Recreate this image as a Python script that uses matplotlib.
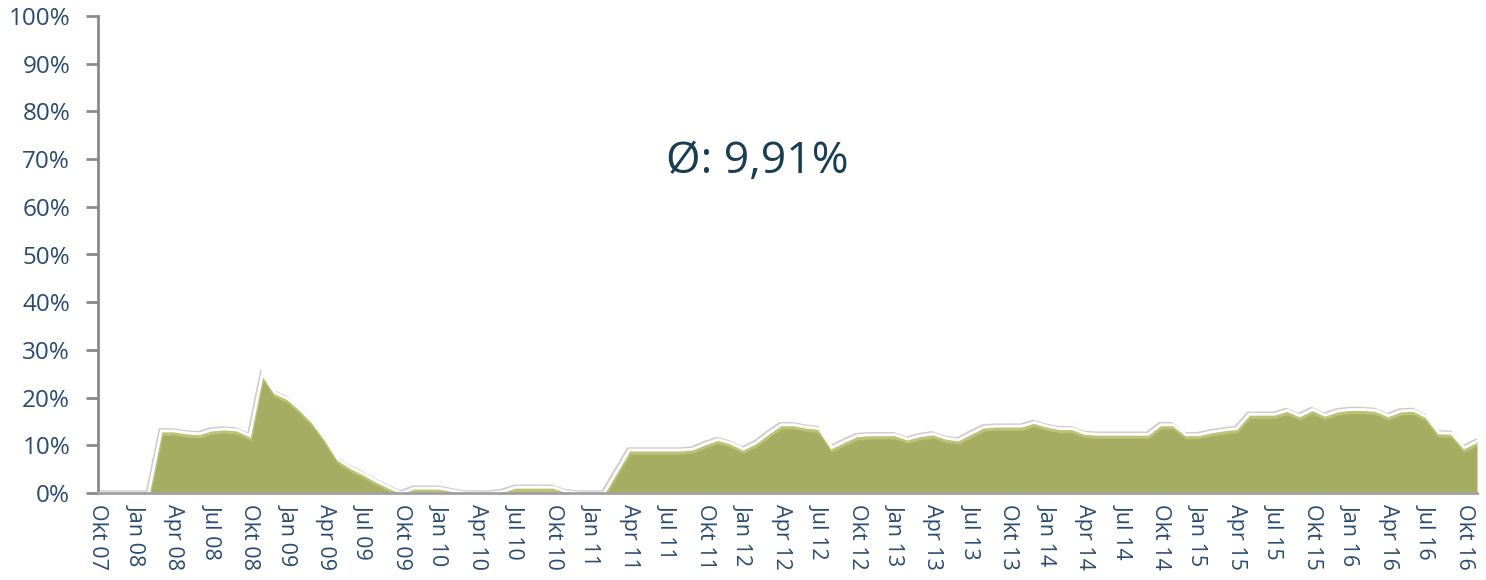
import numpy as np
import matplotlib
matplotlib.use('Agg')
import matplotlib.pyplot as plt
import matplotlib.patheffects as pe
from matplotlib.ticker import FuncFormatter

""" DATOS """
# valores mensuales en %, Okt 07 .. Nov 16
werte = [
    0, 0, 0, 0, 0, 13, 13, 12.6, 12.4, 13.2, 13.4, 13.2,          # Okt07 - Sep08
    12, 25, 21, 19.8, 17.5, 14.8, 11.2, 7, 5.3, 4, 2.5, 1.2,        # Okt08 - Sep09
    0, 1, 1, 1, 0.5, 0, 0, 0, 0.3, 1.2, 1.2, 1.2,                   # Okt09 - Sep10
    1.2, 0.3, 0, 0, 0, 4.5, 9, 9, 9, 9, 9, 9.2,                     # Okt10 - Sep11
    10.3, 11.2, 10.5, 9.2, 10.5, 12.5, 14.3, 14.3, 13.8, 13.5, 9.5, 10.8,  # Okt11 - Sep12
    12, 12.2, 12.2, 12.2, 11.3, 12, 12.4, 11.5, 11.1, 12.5, 13.8, 14,      # Okt12 - Sep13
    14, 14, 14.8, 14, 13.5, 13.5, 12.5, 12.3, 12.3, 12.3, 12.3, 12.3,      # Okt13 - Sep14
    14.3, 14.3, 12.2, 12.2, 12.8, 13.2, 13.5, 16.5, 16.5, 16.5, 17.3, 16.2,  # Okt14 - Sep15
    17.5, 16.3, 17.2, 17.5, 17.5, 17.3, 16.2, 17.2, 17.3, 16, 12.6, 12.5,  # Okt15 - Sep16
    9.5, 10.8,                                                       # Okt16 - Nov16
]
# etiquetas trimestrales: Okt 07, Jan 08, Apr 08, Jul 08, Okt 08, ...
tick_labels = []
for q in range(37):
    mes = ['Okt', 'Jan', 'Apr', 'Jul'][q % 4]
    anio = 7 + (q + 3) // 4
    tick_labels.append(f'{mes} {anio:02d}')
durchschnitt = '9,91%'

x = np.arange(len(werte))
y = np.array(werte)

plt.rcParams['font.family'] = ['Open Sans', 'DejaVu Sans']
fig = plt.figure(figsize=(14.86, 5.8), dpi=100)
ax = fig.add_axes([98 / 1486, 87 / 580, 1379 / 1486, 477 / 580])

text_color = '#2c4a6c'

ax.fill_between(x, 0, y, color='#a5ad62', lw=0, zorder=2)
ax.plot(x, y, color='white', lw=2.0, zorder=3, solid_joinstyle='miter',
        path_effects=[pe.SimpleLineShadow(offset=(-1, 1), shadow_color='#707070', alpha=0.35),
                      pe.Stroke(offset=(0.3, -2.0), linewidth=2.5, foreground='#c6cd83', alpha=0.7),
                      pe.Normal()])

ax.set_xlim(0, len(werte) - 1)
ax.set_ylim(0, 100)

ax.set_yticks(np.arange(0, 101, 10))
ax.yaxis.set_major_formatter(FuncFormatter(lambda v, p: f'{int(v)}%'))
ax.set_xticks(np.arange(0, 3 * len(tick_labels), 3))
ax.set_xticklabels(tick_labels, rotation=-90)

ax.tick_params(axis='y', colors='#8a8a8a', labelcolor=text_color, labelsize=17.5, length=9, width=2, pad=11)
ax.tick_params(axis='x', length=0, labelcolor=text_color, labelsize=15.5, pad=8)

for s in ['top', 'right']:
    ax.spines[s].set_visible(False)
ax.spines['left'].set_color('#8a8a8a')
ax.spines['left'].set_linewidth(2)
ax.spines['bottom'].set_color('#a0a0a0')
ax.spines['bottom'].set_linewidth(2)
ax.spines['bottom'].set_zorder(4)

ax.text(0.478, 0.694, f'\u00d8: {durchschnitt}', transform=ax.transAxes, fontsize=32,
        color='#1b3d52', ha='center', va='center')

fig.savefig('out.png', dpi=100)
